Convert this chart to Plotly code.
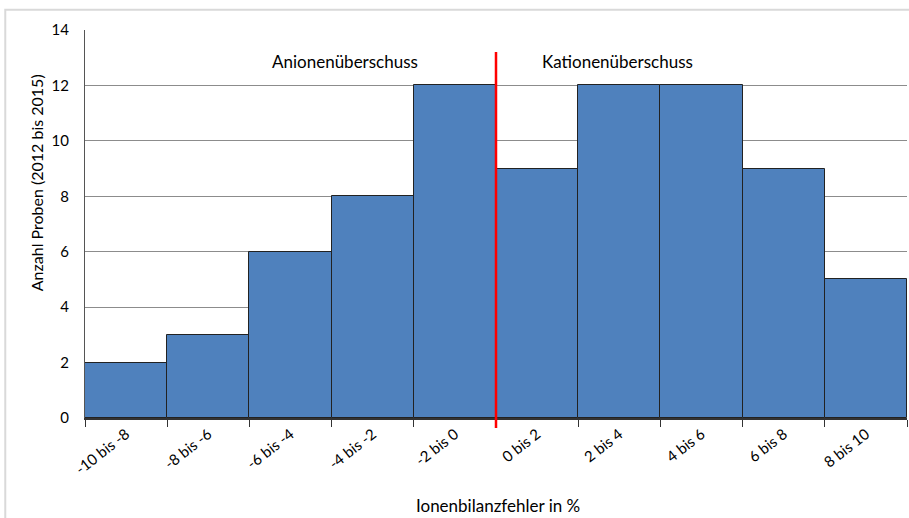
import plotly.graph_objects as go

categories = ["-10 bis -8", "-8 bis -6", "-6 bis -4", "-4 bis -2", "-2 bis 0",
              "0 bis 2", "2 bis 4", "4 bis 6", "6 bis 8", "8 bis 10"]
counts = [2, 3, 6, 8, 12, 9, 12, 12, 9, 5]
y_ticks = [0, 2, 4, 6, 8, 10, 12, 14]

font_family = "Lato, Open Sans, Liberation Sans, sans-serif"

fig = go.Figure()
fig.add_trace(go.Bar(
    x=categories, y=counts,
    marker=dict(color="#4F81BD", line=dict(color="#222222", width=1)),
    width=1.0,
    showlegend=False,
))

# red divider between "-2 bis 0" and "0 bis 2"
fig.add_shape(type="line", xref="x", yref="paper", x0=4.5, x1=4.5, y0=-0.026, y1=0.943,
              line=dict(color="#FF0000", width=2.5), layer="above")

# outer chart border
fig.add_shape(type="rect", xref="paper", yref="paper",
              x0=-0.097, x1=1.01, y0=-0.295, y1=1.052,
              line=dict(color="#D9D9D9", width=2), layer="below")

fig.add_annotation(x=2.66, y=12.88, xref="x", yref="y", text="Anionenüberschuss",
                   showarrow=False, font=dict(size=17, color="#000000"))
fig.add_annotation(x=5.98, y=12.88, xref="x", yref="y", text="Kationenüberschuss",
                   showarrow=False, font=dict(size=17, color="#000000"))

# axis titles
fig.add_annotation(x=-0.058, y=0.606, xref="paper", yref="paper",
                   text="Anzahl Proben (2012 bis 2015)", textangle=-90,
                   showarrow=False, xanchor="center", yanchor="middle",
                   font=dict(size=16, color="#000000"))
fig.add_annotation(x=0.502, y=-0.225, xref="paper", yref="paper",
                   text="Ionenbilanzfehler in %",
                   showarrow=False, xanchor="center", yanchor="middle",
                   font=dict(size=17, color="#000000"))

fig.update_layout(
    width=909, height=518,
    margin=dict(l=85, r=2, t=30, b=100),
    paper_bgcolor="white", plot_bgcolor="white",
    font=dict(family=font_family, size=15, color="#000000"),
    bargap=0,
    xaxis=dict(
        type="category",
        tickangle=-38,
        tickson="boundaries",
        ticks="outside", ticklen=7, tickcolor="#333333",
        showline=True, linecolor="#333333", linewidth=1.5,
        showgrid=False,
        tickfont=dict(size=15),
        range=[-0.5, 9.5],
        automargin=False,
    ),
    yaxis=dict(
        range=[0, 14],
        tickvals=y_ticks,
        showgrid=True, gridcolor="#8C8C8C", gridwidth=1,
        showline=True, linecolor="#555555", linewidth=1,
        ticks="", ticklen=0,
        ticklabelstandoff=12,
        zeroline=False,
        tickfont=dict(size=15),
        automargin=False,
    ),
)

fig.write_html("out.html", config={"displayModeBar": False},
               post_script="document.body.style.margin='0';document.body.style.overflow='hidden';")
